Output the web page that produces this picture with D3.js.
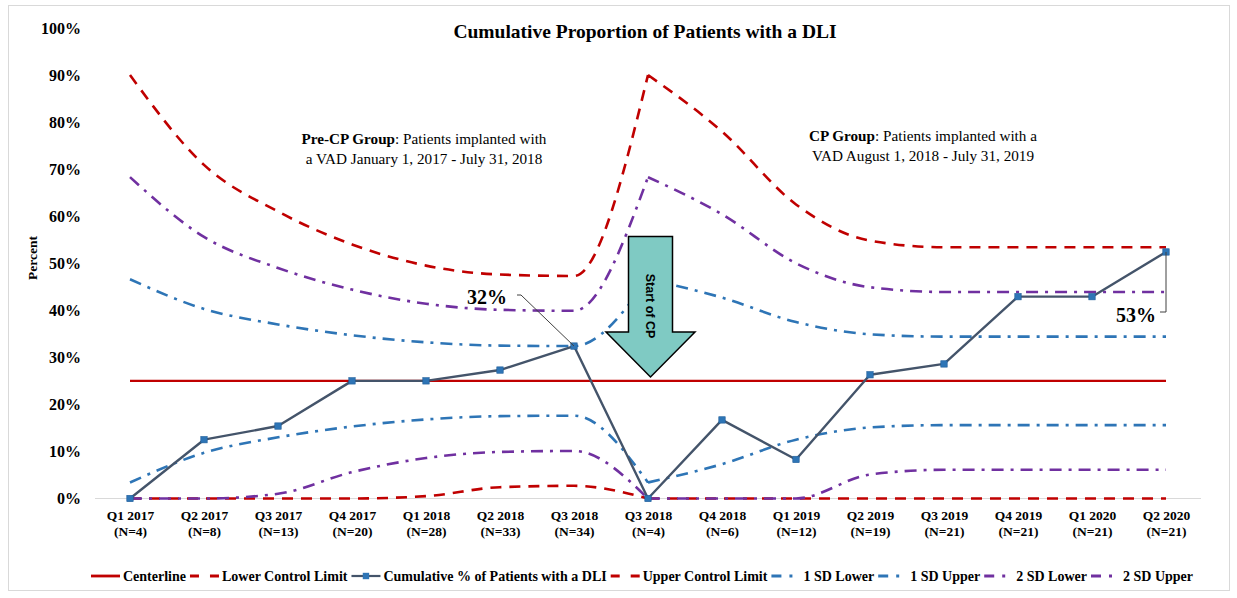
<!DOCTYPE html>
<html><head><meta charset="utf-8">
<script src="https://cdn.jsdelivr.net/npm/d3@7"></script>
<style>body{margin:0;background:#fff}svg{display:block}</style>
</head><body>
<script>
const categories = ["Q1 2017","Q2 2017","Q3 2017","Q4 2017","Q1 2018","Q2 2018","Q3 2018","Q3 2018","Q4 2018","Q1 2019","Q2 2019","Q3 2019","Q4 2019","Q1 2020","Q2 2020"];
const nLabels = ["(N=4)","(N=8)","(N=13)","(N=20)","(N=28)","(N=33)","(N=34)","(N=4)","(N=6)","(N=12)","(N=19)","(N=21)","(N=21)","(N=21)","(N=21)"];
const dli = [0,12.5,15.4,25,25,27.3,32.4,0,16.7,8.3,26.3,28.6,42.9,42.9,52.4];
const centerline = [25,25,25,25,25,25,25,25,25,25,25,25,25,25,25];
const ucl = [90,70.9,61.0,54.0,49.5,47.6,47.3,90,78.0,62.5,54.8,53.4,53.4,53.4,53.4];
const lcl = [0,0,0,0,0.5,2.4,2.7,0,0,0,0,0,0,0,0];
const sd1Upper = [46.6,40.3,37.0,34.7,33.2,32.5,32.4,46.6,42.7,37.5,34.9,34.4,34.4,34.4,34.4];
const sd1Lower = [3.4,9.7,13.0,15.3,16.8,17.5,17.6,3.4,7.3,12.5,15.1,15.6,15.6,15.6,15.6];
const sd2Upper = [68.3,55.6,49.0,44.4,41.4,40.1,39.9,68.3,60.4,50.0,44.9,43.9,43.9,43.9,43.9];
const sd2Lower = [0,0,1.0,5.6,8.6,9.9,10.1,0,0,0,5.1,6.1,6.1,6.1,6.1];
const yTicks = [0,10,20,30,40,50,60,70,80,90,100];
const cpStart = 7;

const W = 1237, H = 598;
const serif = "'Liberation Serif','Times New Roman',serif";
const RED = "#C00000", BLUE = "#2E75B6", PURPLE = "#7030A0", SLATE = "#44546A";

const svg = d3.select("body").append("svg").attr("width", W).attr("height", H);
svg.append("rect").attr("x",8.5).attr("y",5.5).attr("width",1221).attr("height",585)
  .attr("fill","#fff").attr("stroke","#d9d9d9");

const idx = d3.range(categories.length);
const x = d3.scalePoint().domain(idx).range([130, 1166]);
const y = d3.scaleLinear().domain([0, 100]).range([498.5, 28]);

// title
svg.append("text").attr("x", 645).attr("y", 38).attr("text-anchor","middle")
  .attr("font-family", serif).attr("font-weight","bold").attr("font-size", 19.5)
  .text("Cumulative Proportion of Patients with a DLI");

// y axis
const yAxis = d3.axisLeft(y).tickValues(yTicks).tickFormat(d => d + "%").tickSize(0).tickPadding(0);
const yg = svg.append("g").attr("transform","translate(81,0)").call(yAxis);
yg.attr("font-family", serif).attr("font-size", 16);
yg.select(".domain").remove();
yg.selectAll("text").attr("font-family", serif).attr("font-weight","bold").attr("font-size",16).attr("fill","#000");

svg.append("text").attr("transform","translate(37,258) rotate(-90)").attr("text-anchor","middle")
  .attr("font-family", serif).attr("font-weight","bold").attr("font-size",13.5).text("Percent");

// x axis
svg.append("line").attr("x1",95).attr("x2",1201).attr("y1",y(0)).attr("y2",y(0))
  .attr("stroke","#d9d9d9").attr("stroke-width",1.2);
const xAxis = d3.axisBottom(x).tickSize(0).tickFormat(() => "");
const xg = svg.append("g").attr("transform", `translate(0,${y(0)})`).call(xAxis);
xg.attr("font-family", serif).attr("font-size", 13.5);
xg.select(".domain").remove();
xg.selectAll(".tick text").each(function(d){
  const t = d3.select(this).attr("y", 0).attr("dy", null)
    .attr("font-family", serif).attr("font-weight","bold").attr("font-size",13.5).attr("fill","#000");
  t.append("tspan").attr("x",0).attr("y",21).text(categories[d]);
  t.append("tspan").attr("x",0).attr("y",37).text(nLabels[d]);
});

// series
const lineGen = d3.line().x(d => x(d.i)).y(d => y(d.v));
function pathFor(data, smooth){
  const pts = data.map((v,i) => ({i, v}));
  if (!smooth) return lineGen.curve(d3.curveLinear)(pts);
  lineGen.curve(d3.curveMonotoneX);
  return lineGen(pts.slice(0, cpStart + 1)) + lineGen(pts.slice(cpStart));
}

const series = [
  {name:"Centerline", data:centerline, color:RED, dash:null, w:2.2, smooth:false},
  {name:"Lower Control Limit", data:lcl, color:RED, dash:"11,8", w:2.6, smooth:true},
  {name:"Cumulative % of Patients with a DLI", data:dli, color:SLATE, dash:null, w:2.4, smooth:false, marker:true},
  {name:"Upper Control Limit", data:ucl, color:RED, dash:"11,8", w:2.6, smooth:true},
  {name:"1 SD Lower", data:sd1Lower, color:BLUE, dash:"12,7,3,7", w:2.6, smooth:true},
  {name:"1 SD Upper", data:sd1Upper, color:BLUE, dash:"12,7,3,7", w:2.6, smooth:true},
  {name:"2 SD Lower", data:sd2Lower, color:PURPLE, dash:"12,7,3,7", w:2.6, smooth:true},
  {name:"2 SD Upper", data:sd2Upper, color:PURPLE, dash:"12,7,3,7", w:2.6, smooth:true}
];
const drawOrder = [0,1,3,4,5,6,7,2];
drawOrder.forEach(k => {
  const s = series[k];
  svg.append("path").attr("d", pathFor(s.data, s.smooth)).attr("fill","none")
    .attr("stroke", s.color).attr("stroke-width", s.w)
    .attr("stroke-dasharray", s.dash).attr("stroke-linejoin","round");
  if (s.marker) {
    svg.selectAll(null).data(s.data).enter().append("rect")
      .attr("x",(d,i)=>x(i)-3.2).attr("y",d=>y(d)-3.2).attr("width",6.4).attr("height",6.4)
      .attr("fill",BLUE).attr("stroke","#1F5D99").attr("stroke-width",0.6);
  }
});

// group annotations
function groupText(cx, y1, bold, rest1, line2){
  const t = svg.append("text").attr("x",cx).attr("y",y1).attr("text-anchor","middle")
    .attr("font-family",serif).attr("font-size",15.2);
  t.append("tspan").attr("font-weight","bold").text(bold);
  t.append("tspan").text(rest1);
  svg.append("text").attr("x",cx).attr("y",y1+20).attr("text-anchor","middle")
    .attr("font-family",serif).attr("font-size",15.2).text(line2);
}
groupText(424, 144, "Pre-CP Group", ": Patients implanted with", "a VAD January 1, 2017 - July 31, 2018");
groupText(923, 141, "CP Group", ": Patients implanted with a", "VAD August 1, 2018 - July 31, 2019");

// value callouts
svg.append("text").attr("x",487).attr("y",304).attr("text-anchor","middle")
  .attr("font-family",serif).attr("font-weight","bold").attr("font-size",20).text("32%");
svg.append("path").attr("d",`M517,295 L521,295 L${x(6)},${y(dli[6])}`)
  .attr("fill","none").attr("stroke","#404040").attr("stroke-width",1);
svg.append("text").attr("x",1136).attr("y",322).attr("text-anchor","middle")
  .attr("font-family",serif).attr("font-weight","bold").attr("font-size",20).text("53%");
svg.append("path").attr("d",`M1160,312 L${x(14)},312 L${x(14)},${y(dli[14])}`)
  .attr("fill","none").attr("stroke","#404040").attr("stroke-width",1);

// Start of CP arrow
svg.append("path").attr("d","M628.5,236.5 L672.5,236.5 L672.5,332 L695,332 L650.5,377 L606,332 L628.5,332 Z")
  .attr("fill","#7FCAC3").attr("stroke","#000").attr("stroke-width",1.5).attr("stroke-linejoin","miter");
svg.append("text").attr("transform","translate(646,306) rotate(90)").attr("text-anchor","middle")
  .attr("font-family","'Liberation Sans',Arial,sans-serif").attr("font-weight","bold").attr("font-size",12.5)
  .text("Start of CP");

// legend
const lg = svg.append("g");
let cx = 0;
series.forEach(s => {
  const g = lg.append("g").attr("transform",`translate(${cx},0)`);
  g.append("line").attr("x1",0).attr("x2",29).attr("y1",0).attr("y2",0)
    .attr("stroke",s.color).attr("stroke-width",s.marker?2.2:2.8)
    .attr("stroke-dasharray", s.dash ? (s.color===RED ? "9,11" : "10,8,3,8") : null);
  if (s.marker) g.append("rect").attr("x",11.3).attr("y",-3.2).attr("width",6.4).attr("height",6.4).attr("fill",BLUE);
  const t = g.append("text").attr("x",32).attr("y",4.5).attr("font-family",serif)
    .attr("font-weight","bold").attr("font-size",14).text(s.name);
  const w = t.node().getComputedTextLength();
  cx += 32 + w + 4;
});
lg.attr("transform",`translate(${644 - cx/2},576)`);
</script>
</body></html>
